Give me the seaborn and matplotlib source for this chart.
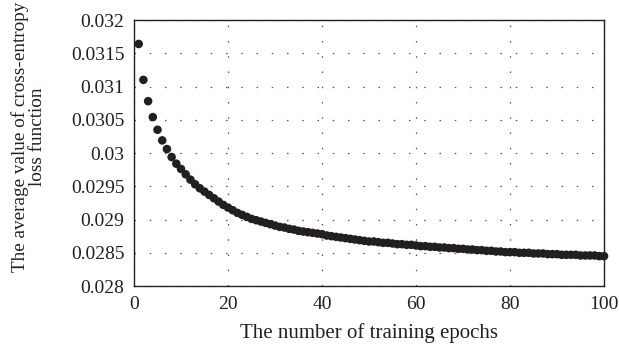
import numpy as np
import pandas as pd
import seaborn as sns
import matplotlib.pyplot as plt
from matplotlib.ticker import FuncFormatter

# average cross-entropy loss per epoch
epochs = list(range(1, 101))
loss = [
    0.03164, 0.03110, 0.03078, 0.03054, 0.03035, 0.03019, 0.03006, 0.02994, 0.02984, 0.02976,
    0.02968, 0.02960, 0.02953, 0.02947, 0.02942, 0.02937, 0.02932, 0.02927, 0.02922, 0.02918,
    0.02914, 0.02910, 0.02907, 0.02904, 0.02901, 0.02899, 0.02897, 0.02895, 0.02893, 0.02891,
    0.02889, 0.02888, 0.02886, 0.02885, 0.02883, 0.02882, 0.02881, 0.02880, 0.02879, 0.02878,
    0.02876, 0.02875, 0.02874, 0.02873, 0.02872, 0.02871, 0.02870, 0.02869, 0.02868, 0.02867,
    0.02867, 0.02866, 0.02865, 0.02865, 0.02864, 0.02863, 0.02863, 0.02862, 0.02862, 0.02861,
    0.02860, 0.02860, 0.02859, 0.02859, 0.02858, 0.02858, 0.02857, 0.02857, 0.02856, 0.02856,
    0.02855, 0.02855, 0.02854, 0.02854, 0.02853, 0.02853, 0.02852, 0.02852, 0.02851, 0.02851,
    0.02851, 0.02850, 0.02850, 0.02850, 0.02849, 0.02849, 0.02849, 0.02848, 0.02848, 0.02848,
    0.02847, 0.02847, 0.02847, 0.02847, 0.02846, 0.02846, 0.02846, 0.02846, 0.02845, 0.02845,
]
x_ticks = [0, 20, 40, 60, 80, 100]
y_ticks = [0.028, 0.0285, 0.029, 0.0295, 0.03, 0.0305, 0.031, 0.0315, 0.032]

sns.set_theme(style="white")
plt.rcParams['font.family'] = ['Liberation Serif', 'DejaVu Serif']

df = pd.DataFrame({"epoch": epochs, "loss": loss})

fig = plt.figure(figsize=(6.19, 3.51), dpi=100)
ax = fig.add_axes([0.2165, 0.185, 0.7593, 0.758])

sns.scatterplot(data=df, x="epoch", y="loss", ax=ax, color="#231f20",
                s=38, edgecolor="none", zorder=3, clip_on=False)

ax.set_xlim(0, 100)
ax.set_ylim(0.028, 0.032)
ax.set_xticks(x_ticks)
ax.set_yticks(y_ticks)
ax.yaxis.set_major_formatter(FuncFormatter(lambda v, p: f"{v:g}"))

ax.grid(True, color="#555555", linestyle=(0, (1.2, 11)), linewidth=0.9)
for s in ax.spines.values():
    s.set_color("#231f20")
    s.set_linewidth(1.0)

ax.tick_params(axis="both", labelsize=14, colors="#231f20", length=0, pad=7)
ax.set_xlabel("The number of training epochs", fontsize=15, color="#231f20")
ax.xaxis.set_label_coords(0.5, -0.14)
ax.set_ylabel("The average value of cross-entropy\nloss function", fontsize=13.8,
              color="#231f20", linespacing=1.0)
ax.yaxis.set_label_coords(-0.187, 0.56)

fig.savefig("out.png", dpi=100)
plt.close("all")
